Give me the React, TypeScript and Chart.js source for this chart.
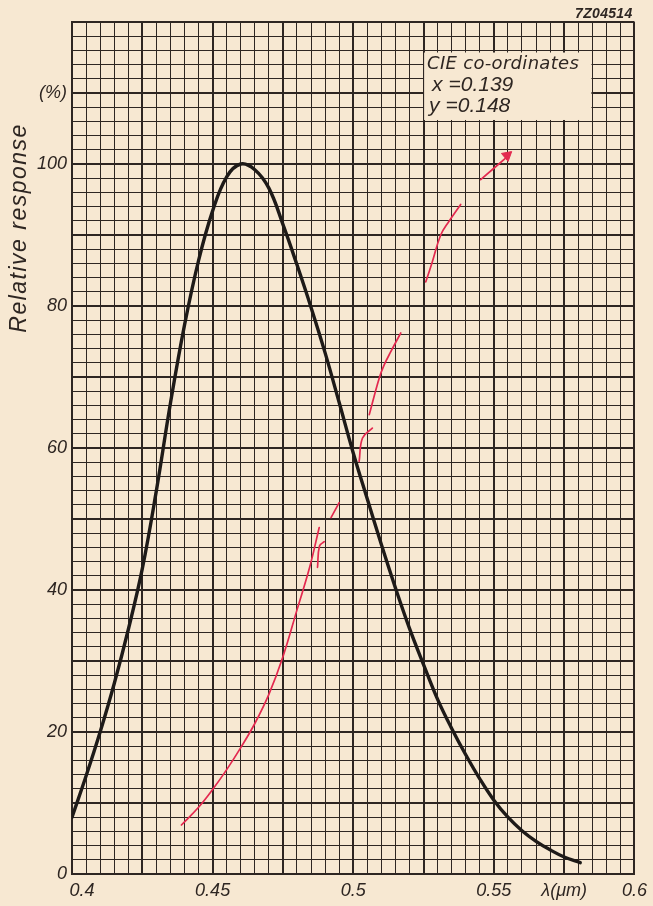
import React, { useEffect, useRef } from "react";
import { Chart, registerables } from "chart.js";

Chart.register(...registerables);

// ---- data ----
const blackX = [
  0.4, 0.405, 0.41, 0.415, 0.42, 0.425, 0.43, 0.435, 0.44, 0.445, 0.45, 0.455, 0.46,
  0.465, 0.47, 0.475, 0.48, 0.485, 0.49, 0.495, 0.5, 0.505, 0.51, 0.515, 0.52, 0.525,
  0.53, 0.535, 0.54, 0.545, 0.55, 0.555, 0.56, 0.565, 0.57, 0.575, 0.5807,
];
const blackY = [
  8, 13.8, 20, 26.8, 34.4, 43, 54, 66.3, 77.3, 86.4, 93.4, 98.2, 100,
  99.2, 96.6, 91.5, 85.8, 79.8, 73.4, 66.4, 59.3, 52.8, 46.4, 40.3, 34.6, 29.5,
  24.6, 20.5, 16.8, 13.4, 10.4, 8.0, 6.1, 4.6, 3.4, 2.4, 1.6,
];

// red pen trace: broken strokes, null separates the strokes
const redX = [
  0.4389, 0.445, 0.45, 0.455, 0.46, 0.465, 0.47, 0.475, 0.48, 0.4845, 0.4879, null,
  0.4873, 0.488, 0.4897, null,
  0.4921, 0.495, null,
  0.5021, 0.5033, 0.5068, null,
  0.5057, 0.5092, 0.511, 0.5134, 0.5169, null,
  0.5258, 0.5281, 0.5311, 0.534, 0.5382, null,
  0.5453, 0.5547,
];
const redY = [
  6.9, 9.4, 11.9, 14.7, 17.8, 21.2, 25.3, 30.6, 37.2, 43.2, 48.8, null,
  43.2, 46.2, 46.8, null,
  50.2, 52.3, null,
  58.1, 61.4, 62.8, null,
  64.7, 69.8, 71.7, 73.6, 76.2, null,
  83.4, 86.2, 90.0, 91.9, 94.3, null,
  97.8, 101.0,
];
const arrowHeadX = [0.5547];
const arrowHeadY = [101.2];

const xTickValues = [0.4, 0.45, 0.5, 0.55, 0.575, 0.6];
const xTickLabels = ["    0.4", "0.45", "0.5", "0.55", "λ(μm)", "0.6"];
const yTickValues = [0, 20, 40, 60, 80, 100, 110];
const yTickLabels = ["0", "20", "40", "60", "80", "100", "(%)"];

const yTitle = "Relative response";
const figureId = "7Z04514";
const cieLines = ["CIE co-ordinates", "x =0.139", "y =0.148"];

// ---- styling ----
const PAPER = "#f7e8d2";
const INK = "#2e2622";
const RED = "#e3294f";
const FONT = "'Liberation Sans', Arial, sans-serif";

function xLabel(v: number): string {
  const k = Math.round(v * 1000);
  const i = xTickValues.findIndex((t) => Math.round(t * 1000) === k);
  return i >= 0 ? xTickLabels[i] : "";
}
function yLabel(v: number): string {
  const k = Math.round(v);
  const i = yTickValues.indexOf(k);
  return i >= 0 ? yTickLabels[i] : "";
}

const decorPlugin = {
  id: "decor",
  beforeDraw(chart: any) {
    const { ctx, width, height } = chart;
    ctx.save();
    ctx.fillStyle = PAPER;
    ctx.fillRect(0, 0, width, height);
    ctx.restore();
  },
  beforeDatasetsDraw(chart: any) {
    const { ctx, scales } = chart;
    const xs = scales.x;
    const ys = scales.y;
    // CIE label box (covers the grid)
    const bx0 = xs.getPixelForValue(0.5252);
    const bx1 = xs.getPixelForValue(0.5847);
    const by0 = ys.getPixelForValue(115.7);
    const by1 = ys.getPixelForValue(106.2);
    ctx.save();
    ctx.fillStyle = PAPER;
    ctx.fillRect(bx0, by0, bx1 - bx0, by1 - by0);
    ctx.fillStyle = INK;
    ctx.textBaseline = "alphabetic";
    ctx.textAlign = "left";
    ctx.font = `italic 18px 'DejaVu Sans', sans-serif`;
    (ctx as any).letterSpacing = "0.3px";
    ctx.fillText(cieLines[0], bx0 + 3, by0 + 16);
    ctx.font = `italic 21px ${FONT}`;
    (ctx as any).letterSpacing = "0px";
    ctx.fillText(cieLines[1], bx0 + 8, by0 + 38);
    ctx.fillText(cieLines[2], bx0 + 5, by0 + 59);
    ctx.restore();
  },
  afterDraw(chart: any) {
    const { ctx, scales, chartArea } = chart;
    const ys = scales.y;
    ctx.save();
    ctx.fillStyle = INK;
    // figure id
    ctx.font = `italic bold 14px ${FONT}`;
    (ctx as any).letterSpacing = "0.3px";
    ctx.textAlign = "right";
    ctx.textBaseline = "alphabetic";
    ctx.fillText(figureId, chartArea.right - 2, 18);
    // y axis title
    ctx.translate(20, ys.getPixelForValue(91));
    ctx.rotate(-Math.PI / 2);
    ctx.textAlign = "center";
    ctx.textBaseline = "middle";
    ctx.font = `italic 23px ${FONT}`;
    (ctx as any).letterSpacing = "1.5px";
    ctx.fillText(yTitle, 0, 0);
    ctx.restore();
  },
};

export default function App() {
  const canvasRef = useRef<HTMLCanvasElement | null>(null);

  useEffect(() => {
    document.body.style.margin = "0";
    document.body.style.background = PAPER;
    const canvas = canvasRef.current;
    if (!canvas) return;

    const blackData = blackX.map((x, i) => ({ x, y: blackY[i] }));
    const redData = redX.map((x, i) => ({ x: x as any, y: redY[i] as any }));
    const arrowData = arrowHeadX.map((x, i) => ({ x, y: arrowHeadY[i] }));

    const chart = new Chart(canvas, {
      type: "scatter",
      data: {
        datasets: [
          {
            data: blackData,
            showLine: true,
            borderColor: "#1e1a18",
            borderWidth: 3.4,
            pointRadius: 0,
            tension: 0.4,
            borderCapStyle: "round",
            borderJoinStyle: "round",
          } as any,
          {
            data: redData,
            showLine: true,
            spanGaps: false,
            borderColor: RED,
            borderWidth: 1.7,
            pointRadius: 0,
            tension: 0.4,
            borderCapStyle: "round",
            borderJoinStyle: "round",
          } as any,
          {
            data: arrowData,
            showLine: false,
            pointStyle: "triangle",
            pointRadius: 6,
            rotation: 50,
            backgroundColor: RED,
            borderColor: RED,
            borderWidth: 1,
          } as any,
        ],
      },
      plugins: [decorPlugin],
      options: {
        animation: false,
        responsive: true,
        maintainAspectRatio: false,
        events: [],
        layout: { padding: { top: 22, right: 17, left: 0, bottom: 0 } },
        plugins: {
          legend: { display: false },
          tooltip: { enabled: false },
          title: { display: false },
        },
        scales: {
          x: {
            type: "linear",
            min: 0.4,
            max: 0.6,
            afterFit: (s: any) => {
              s.height = 32;
            },
            border: { color: INK, width: 2 },
            grid: {
              color: INK,
              drawTicks: false,
              lineWidth: (c: any) =>
                Math.round((c.tick?.value ?? 0) * 1000) % 25 === 0 ? 2 : 1,
            },
            ticks: {
              stepSize: 0.005,
              maxTicksLimit: 1000,
              autoSkip: false,
              maxRotation: 0,
              padding: 6,
              color: INK,
              font: { family: FONT, size: 18, style: "italic" },
              callback: (v: any) => xLabel(Number(v)),
            },
          },
          y: {
            type: "linear",
            min: 0,
            max: 120,
            afterFit: (s: any) => {
              s.width = 72;
            },
            border: { color: INK, width: 2 },
            grid: {
              color: INK,
              drawTicks: false,
              lineWidth: (c: any) =>
                Math.round(c.tick?.value ?? 0) % 10 === 0 ? 2 : 1,
            },
            ticks: {
              stepSize: 2,
              maxTicksLimit: 1000,
              autoSkip: false,
              padding: 5,
              color: INK,
              font: { family: FONT, size: 18, style: "italic" },
              callback: (v: any) => yLabel(Number(v)),
            },
          },
        },
      } as any,
    });

    return () => {
      chart.destroy();
    };
  }, []);

  return (
    <div
      style={{
        position: "absolute",
        left: 0,
        top: 0,
        width: 653,
        height: 906,
        background: PAPER,
      }}
    >
      <canvas ref={canvasRef} />
    </div>
  );
}
